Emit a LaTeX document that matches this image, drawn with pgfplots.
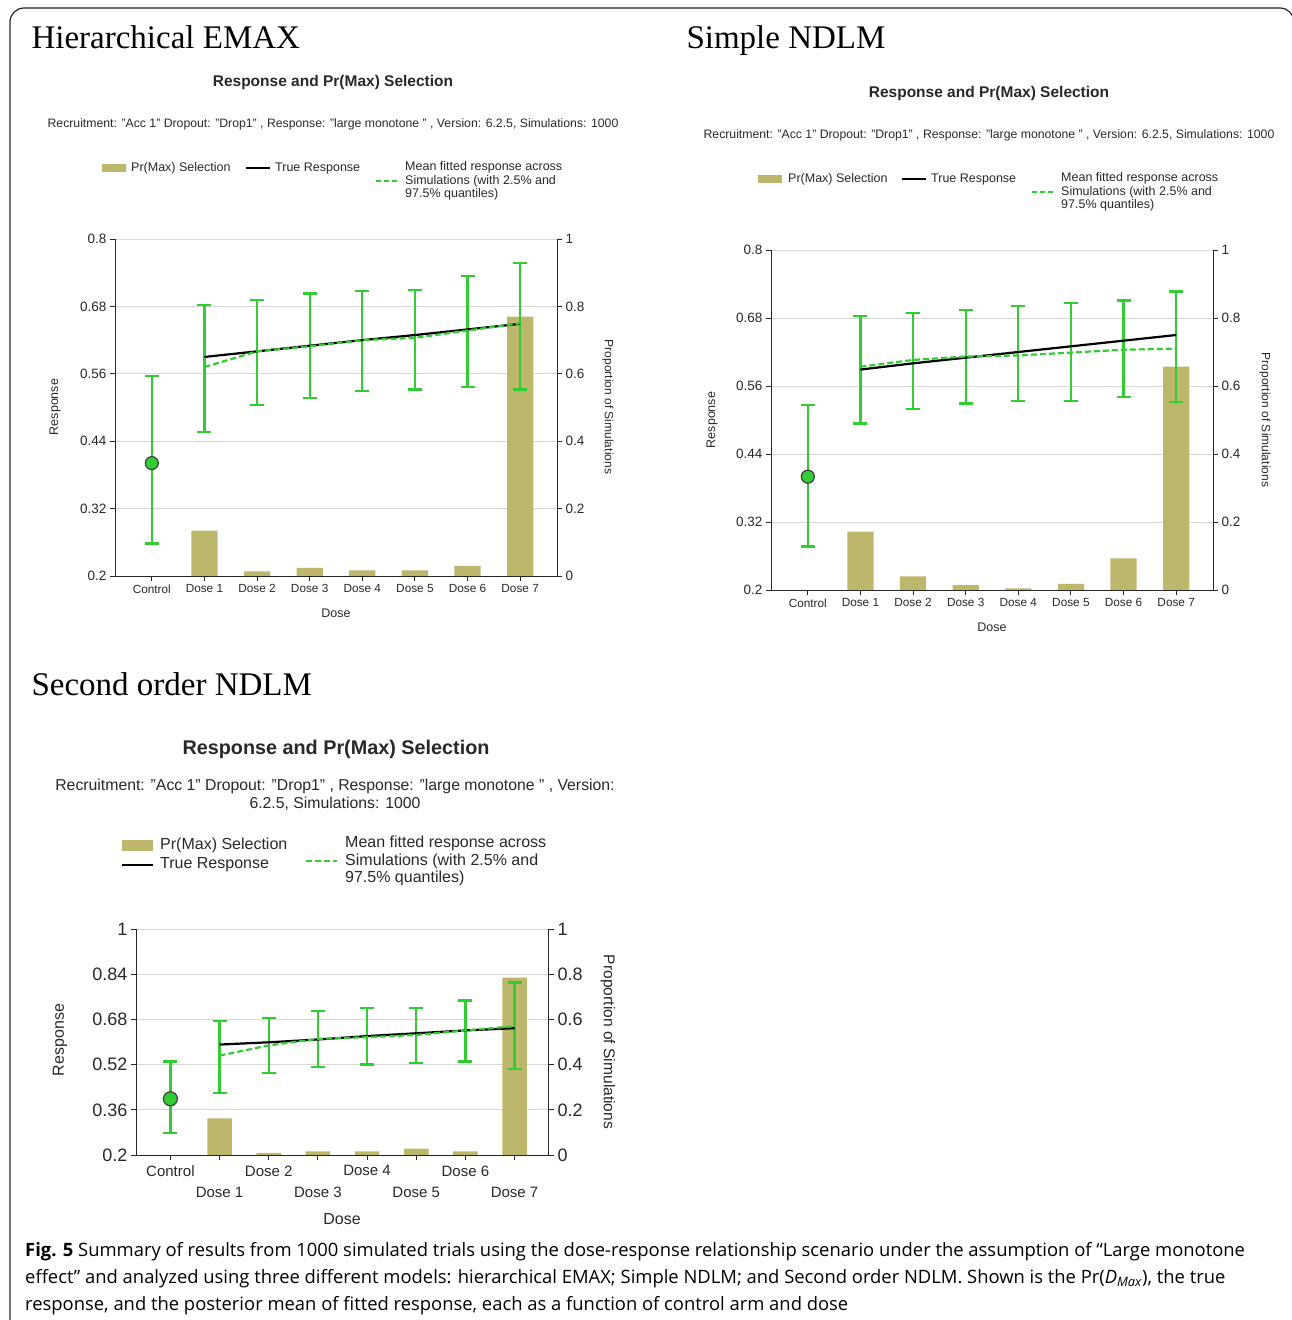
\documentclass[border=0pt]{standalone}
\usepackage{pgfplots}
\pgfplotsset{compat=1.18}
\usepackage{pgfplotstable}
\usepackage{fontspec}
\setmainfont{Liberation Sans}
\newfontfamily\ttlfont{Liberation Serif}
\newfontfamily\capfont{Open Sans}
\definecolor{barc}{RGB}{189,183,107}
\definecolor{lgreen}{RGB}{50,205,50}
\definecolor{gridc}{RGB}{215,215,215}
\definecolor{txt}{RGB}{40,40,40}
\newcommand{\fs}[2]{\fontsize{#1}{#2}\selectfont}

% Hierarchical EMAX
\pgfplotstableread{
x m t lo hi bar
0 0.401 nan 0.258 0.556 0
1 0.572 0.590 0.457 0.683 0.135
2 0.600 0.600 0.505 0.691 0.014
3 0.609 0.610 0.517 0.703 0.024
4 0.620 0.620 0.530 0.707 0.017
5 0.624 0.629 0.532 0.709 0.017
6 0.637 0.639 0.537 0.734 0.030
7 0.650 0.649 0.532 0.757 0.770
}\dataA
% Simple NDLM
\pgfplotstableread{
x m t lo hi bar
0 0.400 nan 0.277 0.527 0
1 0.594 0.589 0.494 0.683 0.172
2 0.606 0.600 0.519 0.689 0.040
3 0.612 0.610 0.529 0.694 0.014
4 0.614 0.620 0.534 0.701 0.005
5 0.619 0.630 0.534 0.707 0.018
6 0.624 0.640 0.541 0.711 0.093
7 0.626 0.650 0.532 0.727 0.657
}\dataB
% Second order NDLM
\pgfplotstableread{
x m t lo hi bar
0 0.399 nan 0.277 0.531 0
1 0.552 0.591 0.419 0.675 0.162
2 0.588 0.599 0.490 0.684 0.009
3 0.611 0.609 0.512 0.710 0.016
4 0.617 0.621 0.520 0.720 0.016
5 0.625 0.631 0.525 0.720 0.028
6 0.641 0.641 0.531 0.747 0.016
7 0.656 0.649 0.505 0.811 0.785
}\dataC

\pgfplotsset{
  base/.style={scale only axis, xmin=-0.7, xmax=7.7, clip=false,
    tick align=outside, major tick length=5pt,
    axis line style={black!85, line width=1pt},
    tick style={black!85, line width=1pt},
    ticklabel style={text=txt}},
  barax/.style={base, ymin=0, ymax=1, axis x line=none, axis y line*=right,
    ytick={0,0.2,0.4,0.6,0.8,1}, yticklabels={0,0.2,0.4,0.6,0.8,1},
    ymajorgrids, grid style={gridc, line width=1pt}},
  respax/.style={base, axis x line*=bottom, axis y line*=left, xtick={0,...,7}},
  errv/.style={lgreen, line width=2.3pt, quiver={u=0, v=\thisrow{hi}-\thisrow{lo}}},
  errc/.style={only marks, mark=-, mark size=#1, mark options={lgreen, line width=2.3pt, solid}},
  truel/.style={black, line width=2.2pt},
  fitl/.style={lgreen, line width=2.2pt, dash pattern=on 6pt off 3pt, skip coords between index={0}{1}},
  ctrl/.style={only marks, mark=*, mark size=#1, skip coords between index={1}{8},
    mark options={fill=lgreen, draw=black!75, line width=1.2pt}},
  bars/.style={ybar, bar width=0.5, fill=barc, draw=none},
}

\begin{document}
\begin{tikzpicture}[x=1pt,y=-1pt]
\useasboundingbox (0,0) rectangle (1292,1320);
\draw[line width=1.2pt, black!85, rounded corners=14pt] (10,1340) -- (10,8) -- (1294,8) -- (1294,1340);

% ================= Panel 1 =================
\node[anchor=base west, font=\ttlfont\fs{33}{36}] at (28,48) {Hierarchical EMAX};
\node[anchor=center, font=\bfseries\fs{15.5}{18}, text=txt] at (333,82) {Response and Pr(Max) Selection};
\node[anchor=center, font=\fs{12.25}{14}, text=txt] at (333,124) {Recruitment: "Acc 1" Dropout: "Drop1" , Response: "large monotone " , Version: 6.2.5, Simulations: 1000};
\fill[barc] (102,164) rectangle (126,172);
\node[anchor=west, font=\fs{12.5}{13.5}, text=txt, inner sep=0pt] at (131,168) {Pr(Max) Selection};
\draw[black, line width=2pt] (246,168) -- (270,168);
\node[anchor=west, font=\fs{12.5}{13.5}, text=txt, inner sep=0pt] at (275,168) {True Response};
\draw[lgreen, line width=2pt, dash pattern=on 5pt off 3pt] (376,181) -- (400,181);
\node[anchor=west, align=left, font=\fs{12.5}{13.5}, text=txt, inner sep=0pt] at (405,181) {Mean fitted response across\\Simulations (with 2.5\% and\\97.5\% quantiles)};
\node[rotate=90, font=\fs{12.5}{15}, text=txt] at (55,407) {Response};
\node[font=\fs{12.5}{15}, text=txt] at (336,613) {Dose};
\node[rotate=-90, font=\fs{12}{15}, text=txt] at (608,407) {Proportion of Simulations};

\coordinate (a1) at (115,576);
\begin{axis}[barax, at={(a1)}, anchor=south west, width=442pt, height=337pt,
  yticklabel style={font=\fs{13.5}{16}}]
\addplot[bars] table[x=x,y=bar]{\dataA};
\end{axis}
\begin{axis}[respax, at={(a1)}, anchor=south west, width=442pt, height=337pt,
  ymin=0.2, ymax=0.8, ytick={0.2,0.32,0.44,0.56,0.68,0.8}, yticklabels={0.2,0.32,0.44,0.56,0.68,0.8},
  xticklabels={Control,Dose 1,Dose 2,Dose 3,Dose 4,Dose 5,Dose 6,Dose 7},
  yticklabel style={font=\fs{13.5}{16}}, xticklabel style={font=\fs{11.8}{14}}]
\addplot[errv] table[x=x,y=lo]{\dataA};
\addplot[errc=7pt] table[x=x,y=lo]{\dataA};
\addplot[errc=7pt] table[x=x,y=hi]{\dataA};
\addplot[truel] table[x=x,y=t]{\dataA};
\addplot[fitl] table[x=x,y=m]{\dataA};
\addplot[ctrl=6.5pt] table[x=x,y=m]{\dataA};
\end{axis}

% ================= Panel 2 =================
\node[anchor=base west, font=\ttlfont\fs{33}{36}] at (683,48) {Simple NDLM};
\node[anchor=center, font=\bfseries\fs{15.5}{18}, text=txt] at (989,93) {Response and Pr(Max) Selection};
\node[anchor=center, font=\fs{12.25}{14}, text=txt] at (989,135) {Recruitment: "Acc 1" Dropout: "Drop1" , Response: "large monotone " , Version: 6.2.5, Simulations: 1000};
\fill[barc] (758,175) rectangle (782,183);
\node[anchor=west, font=\fs{12.5}{13.5}, text=txt, inner sep=0pt] at (788,179) {Pr(Max) Selection};
\draw[black, line width=2pt] (902,179) -- (926,179);
\node[anchor=west, font=\fs{12.5}{13.5}, text=txt, inner sep=0pt] at (931,179) {True Response};
\draw[lgreen, line width=2pt, dash pattern=on 5pt off 3pt] (1032,192) -- (1056,192);
\node[anchor=west, align=left, font=\fs{12.5}{13.5}, text=txt, inner sep=0pt] at (1061,192) {Mean fitted response across\\Simulations (with 2.5\% and\\97.5\% quantiles)};
\node[rotate=90, font=\fs{12.5}{15}, text=txt] at (712,420) {Response};
\node[font=\fs{12.5}{15}, text=txt] at (992,627) {Dose};
\node[rotate=-90, font=\fs{12}{15}, text=txt] at (1265,420) {Proportion of Simulations};

\coordinate (a2) at (771,590);
\begin{axis}[barax, at={(a2)}, anchor=south west, width=442pt, height=340pt,
  yticklabel style={font=\fs{13.5}{16}}]
\addplot[bars] table[x=x,y=bar]{\dataB};
\end{axis}
\begin{axis}[respax, at={(a2)}, anchor=south west, width=442pt, height=340pt,
  ymin=0.2, ymax=0.8, ytick={0.2,0.32,0.44,0.56,0.68,0.8}, yticklabels={0.2,0.32,0.44,0.56,0.68,0.8},
  xticklabels={Control,Dose 1,Dose 2,Dose 3,Dose 4,Dose 5,Dose 6,Dose 7},
  yticklabel style={font=\fs{13.5}{16}}, xticklabel style={font=\fs{11.8}{14}}]
\addplot[errv] table[x=x,y=lo]{\dataB};
\addplot[errc=7pt] table[x=x,y=lo]{\dataB};
\addplot[errc=7pt] table[x=x,y=hi]{\dataB};
\addplot[truel] table[x=x,y=t]{\dataB};
\addplot[fitl] table[x=x,y=m]{\dataB};
\addplot[ctrl=6.5pt] table[x=x,y=m]{\dataB};
\end{axis}

% ================= Panel 3 =================
\node[anchor=base west, font=\ttlfont\fs{33}{36}] at (28,695) {Second order NDLM};
\node[anchor=center, font=\bfseries\fs{19.8}{22}, text=txt] at (336,749) {Response and Pr(Max) Selection};
\node[anchor=center, align=center, font=\fs{15.8}{17.5}, text=txt] at (335,795) {Recruitment: "Acc 1" Dropout: "Drop1" , Response: "large monotone " , Version:\\6.2.5, Simulations: 1000};
\fill[barc] (122,840) rectangle (153,851);
\node[anchor=west, font=\fs{16}{17.5}, text=txt, inner sep=0pt] at (160,845) {Pr(Max) Selection};
\draw[black, line width=2pt] (122,865) -- (153,865);
\node[anchor=west, font=\fs{16}{17.5}, text=txt, inner sep=0pt] at (160,865) {True Response};
\draw[lgreen, line width=2pt, dash pattern=on 6pt off 3pt] (306,861) -- (337,861);
\node[anchor=west, align=left, font=\fs{16}{17.5}, text=txt, inner sep=0pt] at (345,861) {Mean fitted response across\\Simulations (with 2.5\% and\\97.5\% quantiles)};
\node[rotate=90, font=\fs{16}{18}, text=txt] at (60,1040) {Response};
\node[font=\fs{16}{18}, text=txt] at (342,1219) {Dose};
\node[rotate=-90, font=\fs{15.6}{18}, text=txt] at (608,1042) {Proportion of Simulations};

\coordinate (a3) at (136,1155);
\begin{axis}[barax, at={(a3)}, anchor=south west, width=413pt, height=226pt,
  yticklabel style={font=\fs{18}{20}}]
\addplot[bars] table[x=x,y=bar]{\dataC};
\end{axis}
\begin{axis}[respax, at={(a3)}, anchor=south west, width=413pt, height=226pt,
  ymin=0.2, ymax=1, ytick={0.2,0.36,0.52,0.68,0.84,1}, yticklabels={0.2,0.36,0.52,0.68,0.84,1},
  xticklabels={Control,{\vphantom{D}\\Dose 1},Dose 2,{\vphantom{D}\\Dose 3},Dose 4,{\vphantom{D}\\Dose 5},Dose 6,{\vphantom{D}\\Dose 7}},
  yticklabel style={font=\fs{18}{20}}, xticklabel style={font=\fs{15}{21.5}, align=center, yshift=-2pt}]
\addplot[errv] table[x=x,y=lo]{\dataC};
\addplot[errc=7pt] table[x=x,y=lo]{\dataC};
\addplot[errc=7pt] table[x=x,y=hi]{\dataC};
\addplot[truel] table[x=x,y=t]{\dataC};
\addplot[fitl] table[x=x,y=m]{\dataC};
\addplot[ctrl=7pt] table[x=x,y=m]{\dataC};
\end{axis}

% ================= Caption =================
\node[anchor=base west, font=\capfont\fs{18.4}{27}, inner sep=0pt] at (25,1256) {\textbf{Fig. 5} Summary of results from 1000 simulated trials using the dose-response relationship scenario under the assumption of “Large monotone};
\node[anchor=base west, font=\capfont\fs{18.4}{27}, inner sep=0pt] at (25,1283) {effect” and analyzed using three different models: hierarchical EMAX; Simple NDLM; and Second order NDLM. Shown is the Pr(\textit{D}\textsubscript{\textit{Max}}), the true};
\node[anchor=base west, font=\capfont\fs{18.4}{27}, inner sep=0pt] at (25,1310) {response, and the posterior mean of fitted response, each as a function of control arm and dose};
\end{tikzpicture}
\end{document}
